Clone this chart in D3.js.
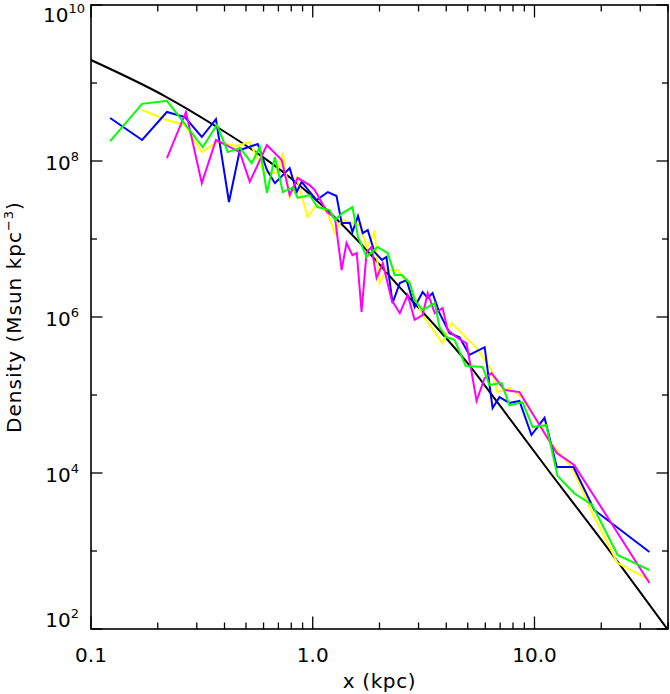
<!DOCTYPE html>
<html>
<head>
<meta charset="utf-8">
<script src="https://cdn.jsdelivr.net/npm/d3@7"></script>
<style>
  body { margin: 0; background: #fff; }
  text { font-family: "DejaVu Sans", sans-serif; fill: #000; }
</style>
</head>
<body>
<svg id="chart" width="670" height="694"></svg>
<script>
// model profile (black curve): radius in kpc, density in Msun kpc^-3
const modelR   = [0.1, 0.215, 0.37, 0.56, 0.787, 1.19, 1.75, 2.47, 3.47, 4.94, 6.95, 11.7, 19.6, 39.7];
const modelRho = [1.97e9, 6.8e8, 2.73e8, 1.27e8, 6.2e7, 2.2e7, 7.2e6, 2.4e6, 8.4e5, 2.65e5, 7.45e4, 1.03e4, 1.51e3, 100];

// measured profiles: [radius kpc, density]
const blue = [
  [0.122,3.56e8],[0.170,1.86e8],[0.220,4.25e8],[0.265,3.66e8],[0.316,2.03e8],[0.366,3.45e8],
  [0.419,2.98e7],[0.469,1.38e8],[0.565,1.65e8],[0.621,7.7e7],[0.675,5.2e7],[0.787,8.1e7],
  [0.847,4.0e7],[0.891,5.4e7],[1.04,3.16e7],[1.17,4.0e7],[1.28,3.56e7],[1.35,1.6e7],
  [1.47,1.6e7],[1.51,1.23e7],[1.60,1.97e7],[1.68,1.19e7],[1.77,1.30e7],[1.90,6.8e6],
  [2.05,5.4e6],[2.15,5.9e6],[2.29,1.51e6],[2.47,2.73e6],[2.65,2.98e6],[2.88,1.34e6],
  [3.13,2.09e6],[3.30,1.75e6],[3.47,2.03e6],[3.73,1.12e6],[4.14,6.2e5],[4.59,5.5e5],
  [5.09,3.26e5],[5.96,4.1e5],[6.47,6.8e4],[6.95,9.4e4],[7.71,7.9e4],[8.55,8.4e4],
  [9.69,3.07e4],[11.1,5.1e4],[12.6,1.19e4],[15.0,1.19e4],[18.6,3.36e3],[33.0,970]
];
const magenta = [
  [0.220,1.09e8],[0.268,4.25e8],[0.316,5.2e7],[0.366,1.86e8],[0.469,1.30e8],[0.520,5.4e7],
  [0.621,1.60e8],[0.724,1.03e8],[0.787,3.66e7],[0.855,6.05e7],[0.968,4.9e7],[1.02,4.25e7],
  [1.16,2.22e7],[1.26,1.86e7],[1.35,4.0e6],[1.42,8.9e6],[1.51,6.2e6],[1.58,6.6e6],
  [1.66,1.16e6],[1.75,6.8e6],[1.84,7.9e6],[1.94,3.16e6],[2.07,4.9e6],[2.27,1.65e6],
  [2.47,1.12e6],[2.68,1.91e6],[2.88,9.2e5],[3.13,1.06e6],[3.30,2.03e6],[3.55,1.12e6],
  [3.85,1.30e6],[4.06,6.8e5],[4.45,5.5e5],[4.94,4.6e5],[5.48,8.4e4],[5.96,1.65e5],
  [6.40,1.91e5],[7.33,1.16e5],[8.55,1.09e5],[12.6,1.80e4],[15.1,1.27e4],[33.0,389]
];
const green = [
  [0.122,1.80e8],[0.170,5.4e8],[0.220,5.9e8],[0.319,1.51e8],[0.370,2.9e8],[0.414,1.30e8],
  [0.469,1.47e8],[0.531,9.4e7],[0.577,1.51e8],[0.621,3.9e7],[0.675,1.12e8],[0.733,4.0e7],
  [0.813,4.6e7],[0.855,3.36e7],[0.968,3.66e7],[1.05,2.57e7],[1.19,2.35e7],[1.26,1.75e7],
  [1.36,2.15e7],[1.51,2.57e7],[1.60,1.06e7],[1.75,5.9e6],[1.96,7.9e6],[2.18,6.6e6],
  [2.34,3.45e6],[2.52,3.45e6],[2.74,2.73e6],[2.88,1.65e6],[3.13,1.23e6],[3.55,1.51e6],
  [3.73,7.4e5],[4.01,5.5e5],[4.36,5.1e5],[4.89,2.36e5],[5.83,2.29e5],[6.27,1.34e5],
  [7.10,1.43e5],[7.71,7.4e4],[8.83,8.1e4],[9.80,3.9e4],[11.3,4.1e4],[12.7,9.2e3],
  [15.1,5.5e3],[18.2,3.9e3],[23.7,890],[33.0,570]
];
const yellow = [
  [0.170,4.5e8],[0.220,3.36e8],[0.265,2.9e8],[0.316,1.30e8],[0.370,1.75e8],[0.455,1.56e8],
  [0.520,1.75e8],[0.601,7.2e7],[0.689,7.0e7],[0.733,1.27e8],[0.787,3.45e7],[0.847,6.05e7],
  [0.948,1.91e7],[1.04,2.73e7],[1.16,2.22e7],[1.26,1.19e7],[1.35,1.75e7],[1.63,1.51e7],
  [1.75,7.9e6],[1.90,1.23e7],[2.00,2.73e6],[2.15,4.0e6],[2.42,4.0e6],[2.82,2.09e6],
  [3.13,1.06e6],[3.85,4.6e5],[4.23,8.4e5],[5.48,4.0e5],[6.40,2.09e5],[6.81,1.09e5],
  [7.71,1.23e5],[8.83,9.2e4],[11.7,2.5e4],[14.8,1.16e4],[18.6,2.73e3],[23.7,700],[33.0,425]
];

const xTickValues = [0.1, 1, 10];
const xTickLabels = ["0.1", "1.0", "10.0"];
const yTickExponents = [2, 4, 6, 8, 10];

const margin = {top: 5, right: 2, bottom: 65, left: 91};
const width = 670, height = 694;

const svg = d3.select("#chart");

const x = d3.scaleLog().domain([0.1, 40]).range([margin.left, width - margin.right]);
const y = d3.scaleLog().domain([1e2, 1e10]).range([height - margin.bottom, margin.top]);

const x0 = x.range()[0], x1 = x.range()[1];
const y0 = y.range()[0], y1 = y.range()[1];

// curves
svg.append("defs").append("clipPath").attr("id", "clip")
  .append("rect").attr("x", x0).attr("y", y1).attr("width", x1 - x0).attr("height", y0 - y1);

const plot = svg.append("g").attr("clip-path", "url(#clip)");

plot.append("path")
  .datum(modelR.map((r, i) => [r, modelRho[i]]))
  .attr("fill", "none")
  .attr("stroke", "#000")
  .attr("stroke-width", 2)
  .attr("d", d3.line().x(d => x(d[0])).y(d => y(d[1])).curve(d3.curveMonotoneX));

const series = [
  {data: yellow, color: "#ffff00"},
  {data: blue, color: "#0000ff"},
  {data: magenta, color: "#ff00ff"},
  {data: green, color: "#00ff00"}
];

plot.selectAll("path.series")
  .data(series)
  .join("path")
  .attr("class", "series")
  .attr("fill", "none")
  .attr("stroke", d => d.color)
  .attr("stroke-width", 2)
  .attr("d", d => d3.line().x(p => x(p[0])).y(p => y(p[1]))(d.data));

// frame
svg.append("rect")
  .attr("x", x0).attr("y", y1)
  .attr("width", x1 - x0).attr("height", y0 - y1)
  .attr("fill", "none").attr("stroke", "#000").attr("stroke-width", 1.6);

// x ticks (bottom and top)
const xMinor = [];
[0.1, 1, 10].forEach(dec => {
  for (let k = 2; k <= 9; k++) if (dec * k <= 40) xMinor.push(dec * k);
});
const ticks = svg.append("g").attr("stroke", "#000").attr("stroke-width", 1.3);

xTickValues.forEach(v => {
  ticks.append("line").attr("x1", x(v)).attr("x2", x(v)).attr("y1", y0).attr("y2", y0 - 12.5);
  ticks.append("line").attr("x1", x(v)).attr("x2", x(v)).attr("y1", y1).attr("y2", y1 + 12.5);
});
xMinor.forEach(v => {
  ticks.append("line").attr("x1", x(v)).attr("x2", x(v)).attr("y1", y0).attr("y2", y0 - 6.5);
  ticks.append("line").attr("x1", x(v)).attr("x2", x(v)).attr("y1", y1).attr("y2", y1 + 6.5);
});

// y ticks (left and right), long at even powers
for (let e = 2; e <= 10; e++) {
  const len = e % 2 === 0 ? 11.5 : 6;
  const yy = y(Math.pow(10, e));
  ticks.append("line").attr("x1", x0).attr("x2", x0 + len).attr("y1", yy).attr("y2", yy);
  ticks.append("line").attr("x1", x1).attr("x2", x1 - len).attr("y1", yy).attr("y2", yy);
}

// x tick labels
svg.append("g").selectAll("text")
  .data(xTickValues)
  .join("text")
  .attr("x", d => x(d))
  .attr("y", 662)
  .attr("text-anchor", "middle")
  .attr("font-size", 20)
  .text((d, i) => xTickLabels[i]);

// y tick labels
yTickExponents.forEach(e => {
  const yy = y(Math.pow(10, e));
  const base = Math.min(Math.max(yy + 9, 22), 627);
  const t = svg.append("text")
    .attr("x", e >= 10 ? 85 : 79)
    .attr("y", base)
    .attr("text-anchor", "end")
    .attr("font-size", 20);
  t.append("tspan").text("10");
  t.append("tspan").attr("dy", -9).attr("font-size", 13).text(e);
});

// axis titles
svg.append("text")
  .attr("x", (x0 + x1) / 2)
  .attr("y", 688)
  .attr("text-anchor", "middle")
  .attr("font-size", 20)
  .attr("letter-spacing", 0.6)
  .text("x (kpc)");

const yl = svg.append("text")
  .attr("transform", `translate(21,${(y0 + y1) / 2}) rotate(-90)`)
  .attr("text-anchor", "middle")
  .attr("font-size", 20)
  .attr("letter-spacing", 1);
yl.append("tspan").text("Density (Msun kpc");
yl.append("tspan").attr("dy", -8).attr("font-size", 13).text("\u22123");
yl.append("tspan").attr("dy", 8).text(")");
</script>
</body>
</html>
